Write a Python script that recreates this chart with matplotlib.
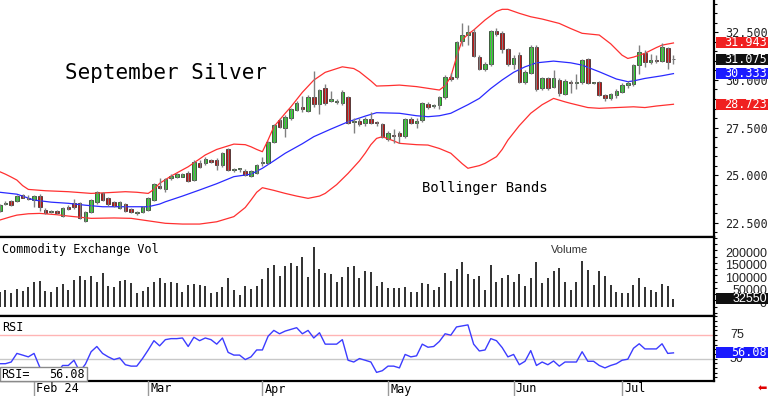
import numpy as np
import matplotlib.pyplot as plt
from matplotlib.patches import Rectangle
from matplotlib.ticker import MultipleLocator

# daily bars, Jan 24 .. Jul 15 (September silver)
opens = [23.13, 23.50, 23.64, 23.64, 23.95, 23.80, 23.69, 23.90, 23.17, 23.08,
         23.13, 22.85, 23.34, 23.53, 23.52, 22.60, 23.08, 23.57, 24.04, 23.80,
         23.57, 23.26, 23.48, 23.20, 23.00, 23.08, 23.17, 23.69, 24.43, 24.25,
         24.83, 24.92, 24.92, 25.13, 24.74, 25.65, 25.62, 25.78, 25.79, 25.53,
         26.37, 25.25, 25.30, 25.23, 24.98, 25.10, 25.62, 25.65, 26.75, 27.89,
         27.46, 27.98, 28.42, 28.59, 28.38, 29.12, 28.73, 29.59, 28.90, 28.82,
         28.77, 29.09, 27.80, 27.84, 27.75, 27.95, 27.74, 27.68, 26.88, 27.12,
         27.20, 27.05, 27.95, 27.72, 27.90, 28.73, 28.63, 28.68, 29.09, 30.17,
         30.17, 32.06, 32.36, 32.53, 31.22, 30.57, 30.84, 32.58, 32.48, 31.62,
         30.84, 31.31, 29.87, 30.35, 31.74, 29.56, 30.08, 29.65, 30.00, 29.26,
         29.91, 29.85, 29.87, 31.08, 29.83, 29.87, 29.20, 29.03, 29.20, 29.38,
         29.73, 29.78, 30.78, 31.43, 30.96, 31.02, 31.01, 31.66, 31.10]
highs = [23.50, 23.62, 23.70, 23.98, 24.00, 23.98, 23.97, 24.00, 23.25, 23.18,
         23.18, 23.30, 23.45, 23.76, 23.60, 23.10, 23.75, 24.15, 24.10, 23.85,
         23.65, 23.65, 23.55, 23.25, 23.10, 23.40, 23.85, 24.58, 24.85, 24.85,
         25.05, 25.10, 25.12, 25.20, 25.78, 25.80, 25.95, 25.85, 25.88, 26.20,
         26.45, 25.40, 25.40, 25.30, 25.25, 25.60, 25.95, 26.80, 27.70, 28.00,
         28.15, 28.55, 28.90, 29.15, 29.20, 30.48, 29.55, 29.80, 29.40, 29.00,
         29.45, 29.15, 28.00, 28.00, 28.05, 28.30, 27.85, 27.75, 27.30, 27.40,
         27.30, 28.00, 28.05, 28.00, 28.85, 28.85, 28.75, 29.15, 30.25, 30.35,
         32.05, 32.97, 32.90, 32.70, 31.30, 30.95, 32.65, 32.72, 32.55, 31.70,
         31.30, 31.45, 30.50, 31.85, 31.85, 30.15, 30.15, 30.50, 30.10, 30.05,
         30.00, 30.30, 31.10, 31.15, 29.90, 29.95, 29.28, 29.30, 29.50, 29.85,
         29.95, 30.85, 31.85, 31.55, 31.35, 31.30, 31.95, 31.75, 31.30]
lows = [23.05, 23.45, 23.40, 23.60, 23.78, 23.70, 23.34, 23.13, 22.95, 23.02,
        22.95, 22.80, 23.15, 23.20, 22.70, 22.55, 23.02, 23.50, 23.65, 23.40,
        23.30, 23.20, 23.05, 23.00, 22.90, 23.00, 23.10, 23.65, 24.25, 24.10,
        24.75, 24.85, 24.88, 24.65, 24.70, 25.40, 25.55, 25.62, 25.25, 25.45,
        25.20, 25.15, 25.18, 24.95, 24.90, 25.05, 25.50, 25.60, 26.70, 27.45,
        26.98, 27.90, 28.35, 28.30, 28.30, 28.60, 28.20, 28.70, 28.85, 28.75,
        28.70, 27.70, 27.23, 27.60, 27.60, 27.70, 27.60, 26.95, 26.80, 26.70,
        26.70, 26.95, 27.70, 27.50, 27.80, 28.50, 28.55, 28.50, 29.00, 29.95,
        30.05, 31.80, 31.85, 31.20, 30.50, 30.45, 30.75, 32.30, 31.40, 30.75,
        30.60, 29.85, 29.80, 30.30, 29.40, 29.45, 29.45, 29.60, 29.15, 29.20,
        29.30, 29.50, 29.80, 29.80, 29.78, 29.15, 28.90, 28.95, 29.05, 29.30,
        29.60, 29.70, 30.30, 30.70, 30.85, 30.90, 30.95, 30.55, 30.85]
closes = [23.43, 23.55, 23.43, 23.90, 23.81, 23.74, 23.92, 23.34, 22.99, 23.13,
          22.99, 23.26, 23.20, 23.34, 22.73, 23.05, 23.69, 24.10, 23.69, 23.48,
          23.39, 23.59, 23.13, 23.06, 23.06, 23.34, 23.78, 24.52, 24.31, 24.78,
          24.97, 25.04, 25.06, 24.71, 25.70, 25.44, 25.85, 25.70, 25.53, 26.15,
          25.27, 25.29, 25.32, 25.00, 25.21, 25.53, 25.66, 26.72, 27.63, 27.54,
          28.07, 28.46, 28.80, 28.46, 29.09, 28.72, 29.47, 28.77, 29.00, 28.85,
          29.35, 27.75, 27.85, 27.68, 27.95, 27.75, 27.72, 26.98, 27.23, 27.08,
          27.05, 27.95, 27.75, 27.86, 28.80, 28.59, 28.67, 29.09, 30.17, 30.05,
          31.97, 32.36, 32.50, 31.25, 30.57, 30.82, 32.58, 32.41, 31.62, 30.84,
          31.13, 29.90, 30.43, 31.71, 29.50, 30.08, 29.56, 30.08, 29.30, 29.96,
          29.82, 29.91, 31.05, 29.85, 29.84, 29.20, 29.03, 29.24, 29.42, 29.73,
          29.82, 30.78, 31.45, 30.96, 31.05, 31.00, 31.71, 30.96, 31.075]
volume = [60000, 67000, 53000, 70000, 63000, 77000, 98000, 103000, 64000, 57000,
          77000, 90000, 67000, 107000, 124000, 107000, 123000, 98000, 134000, 83000,
          79000, 104000, 107000, 94000, 56000, 63000, 79000, 98000, 114000, 94000,
          99000, 96000, 59000, 87000, 92000, 87000, 84000, 56000, 60000, 77000,
          116000, 67000, 47000, 84000, 70000, 83000, 110000, 154000, 167000, 123000,
          164000, 174000, 163000, 198000, 120000, 240000, 152000, 136000, 130000, 99000,
          120000, 160000, 163000, 114000, 143000, 139000, 83000, 100000, 74000, 74000,
          76000, 77000, 57000, 60000, 94000, 90000, 67000, 80000, 134000, 103000,
          151000, 180000, 130000, 110000, 124000, 67000, 167000, 100000, 114000, 127000,
          100000, 130000, 83000, 114000, 178000, 96000, 114000, 144000, 156000, 100000,
          67000, 100000, 183000, 147000, 87000, 143000, 123000, 87000, 60000, 53000,
          56000, 87000, 116000, 80000, 67000, 60000, 90000, 83000, 32550]
rsi = [44.5, 44.5, 46.3, 55.5, 53.7, 51.8, 55.5, 40.8, 34.0, 36.0,
       34.0, 42.6, 42.6, 48.2, 36.0, 44.0, 57.3, 62.9, 55.5, 51.8,
       48.9, 50.7, 43.4, 41.9, 41.9, 50.0, 59.2, 69.1, 63.6, 70.2,
       71.3, 71.3, 72.0, 62.9, 72.8, 69.1, 72.0, 70.2, 65.4, 72.0,
       56.6, 53.7, 53.7, 48.9, 51.8, 59.2, 59.2, 73.9, 80.1, 76.5,
       79.4, 81.2, 83.0, 76.5, 80.1, 72.0, 77.6, 65.4, 65.4, 65.4,
       70.2, 48.2, 46.3, 50.0, 48.2, 46.3, 35.2, 37.0, 41.9, 41.9,
       40.0, 54.4, 51.8, 52.9, 65.4, 62.1, 62.9, 68.3, 76.5, 75.0,
       83.8, 84.9, 86.0, 65.4, 58.1, 59.2, 71.3, 69.1, 61.7, 51.8,
       54.4, 43.4, 47.1, 58.5, 42.6, 46.3, 43.4, 47.4, 41.9, 46.3,
       46.3, 46.3, 57.3, 47.1, 47.1, 42.6, 40.0, 42.6, 44.5, 48.2,
       49.3, 61.0, 65.8, 60.3, 60.3, 60.3, 65.8, 55.5, 56.08]

# bollinger bands, read at sample bars
upper_idx = [0, 1, 2, 3, 4, 5, 8, 12, 16, 19, 22, 24, 26, 27, 28, 30, 33, 35, 36, 38,
             41, 43, 44, 45, 46, 47, 48, 50, 51, 53, 55, 57, 60, 62, 63, 65, 66, 68,
             70, 73, 75, 77, 78, 79, 80, 81, 82, 83, 85, 87, 88, 89, 91, 93, 95, 98,
             100, 102, 105, 107, 109, 110, 111, 113, 115, 116, 118]
upper = [25.18, 25.05, 24.90, 24.74, 24.45, 24.25, 24.18, 24.13, 24.04, 24.08, 24.13,
         24.10, 24.04, 24.25, 24.57, 24.95, 25.44, 25.85, 26.06, 26.35, 26.63, 26.60,
         26.49, 26.35, 26.23, 26.85, 27.54, 28.25, 28.59, 29.35, 29.99, 30.40, 30.69,
         30.60, 30.43, 29.95, 29.68, 29.70, 29.73, 29.65, 29.56, 29.47, 29.70, 30.17,
         31.20, 32.10, 32.40, 32.62, 33.15, 33.60, 33.71, 33.71, 33.50, 33.32, 33.20,
         32.97, 32.70, 32.45, 32.36, 31.90, 31.30, 31.13, 31.20, 31.40, 31.70, 31.83,
         31.943]
mid_idx = [0, 3, 6, 9, 12, 15, 18, 22, 26, 28, 29, 32, 35, 38, 41, 44, 46, 48, 50, 53,
           55, 58, 61, 64, 66, 70, 73, 75, 77, 79, 82, 84, 86, 88, 90, 92, 94, 97, 100,
           102, 105, 108, 110, 111, 113, 116, 118]
mid = [24.10, 24.00, 23.69, 23.58, 23.52, 23.42, 23.34, 23.34, 23.34, 23.48, 23.60,
       23.90, 24.22, 24.55, 24.92, 25.05, 25.36, 25.75, 26.15, 26.65, 27.02, 27.42,
       27.80, 28.10, 28.28, 28.25, 28.12, 28.07, 28.12, 28.25, 28.70, 29.03, 29.55,
       30.00, 30.40, 30.69, 30.90, 30.99, 30.90, 30.78, 30.43, 30.05, 29.91, 29.95,
       30.08, 30.22, 30.333]
lower_idx = [0, 2, 3, 5, 7, 10, 12, 16, 20, 23, 26, 29, 32, 35, 38, 41, 43, 44, 45,
             46, 48, 50, 52, 54, 56, 57, 59, 61, 63, 64, 65, 66, 67, 69, 70, 73, 75,
             77, 79, 81, 82, 84, 85, 87, 88, 89, 91, 93, 95, 97, 99, 100, 103, 105,
             108, 111, 113, 115, 118]
lower = [22.64, 22.82, 22.90, 22.97, 22.99, 22.92, 22.85, 22.73, 22.75, 22.73, 22.60,
         22.47, 22.43, 22.43, 22.55, 22.82, 23.30, 23.69, 24.10, 24.34, 24.20, 24.04,
         23.90, 23.78, 23.90, 24.04, 24.50, 25.09, 25.75, 26.15, 26.60, 26.93, 27.02,
         26.80, 26.67, 26.60, 26.58, 26.40, 26.15, 25.60, 25.36, 25.50, 25.62, 25.97,
         26.35, 26.84, 27.60, 28.25, 28.70, 29.03, 28.85, 28.77, 28.55, 28.51, 28.55,
         28.59, 28.55, 28.63, 28.723]

month_idx = [6, 26, 46, 68, 90, 109]
month_labels = ['Feb 24', 'Mar', 'Apr', 'May', 'Jun', 'Jul']
price_ticks = [22.5, 25.0, 27.5, 30.0, 32.5]
vol_ticks = [0, 50000, 100000, 150000, 200000]

W, H = 768, 396
MONO = 'DejaVu Sans Mono'
SANS = 'Liberation Sans'


def rect(x0, y0, x1, y1):
    return [x0 / W, 1 - y1 / H, (x1 - x0) / W, (y1 - y0) / H]


fig = plt.figure(figsize=(W / 100, H / 100), dpi=100)
ax_p = fig.add_axes(rect(0, 0, 714, 237))
ax_v = fig.add_axes(rect(0, 237, 714, 316))
ax_r = fig.add_axes(rect(0, 316, 714, 381))

x = np.arange(len(closes))
o = np.array(opens)
c = np.array(closes)
up = c >= o
lo = np.minimum(o, c)
hgt = np.maximum(np.abs(c - o), 0.05)

for ax in (ax_p, ax_v, ax_r):
    ax.set_xlim(0.04, 125.1)
    ax.set_xticks([])
    ax.spines['left'].set_visible(False)
    for s in ('top', 'bottom', 'right'):
        ax.spines[s].set_linewidth(1.6)
ax_p.spines['top'].set_visible(False)

# price panel
ax_p.plot(upper_idx, upper, color='#ff3030', lw=0.9)
ax_p.plot(lower_idx, lower, color='#ff3030', lw=0.9)
ax_p.plot(mid_idx, mid, color='#2a2aff', lw=0.9)
ax_p.vlines(x, lows, highs, color='#808080', lw=1.0)
ax_p.bar(x[up], hgt[up], bottom=lo[up], width=0.62, color='#1ee61e',
         edgecolor='#202020', lw=0.5)
ax_p.bar(x[~up], hgt[~up], bottom=lo[~up], width=0.62, color='#d00000',
         edgecolor='#202020', lw=0.5)
ax_p.set_ylim(21.75, 34.20)
ax_p.yaxis.tick_right()
ax_p.set_yticks(price_ticks)
ax_p.set_yticklabels(['%.3f' % v for v in price_ticks])
ax_p.yaxis.set_minor_locator(MultipleLocator(0.5))
ax_p.tick_params(axis='y', length=3, pad=5, labelsize=8.5, labelcolor='#222222',
                 labelfontfamily=MONO)
ax_p.tick_params(axis='y', which='minor', length=2, width=0.8)
fig.text(65 / W, 1 - 73 / H, 'September Silver', fontsize=15, family=MONO,
         va='center', ha='left')
ax_p.text(0.591, 0.205, 'Bollinger Bands', transform=ax_p.transAxes, fontsize=10,
          family=MONO, va='center', ha='left')

# volume panel
ax_v.vlines(x, 0, volume, color='#303030', lw=1.4)
ax_v.set_ylim(-37200, 278800)
ax_v.yaxis.tick_right()
ax_v.yaxis.set_major_locator(MultipleLocator(25000))
ax_v.tick_params(axis='y', length=2, width=0.8, labelright=False)

ax_v.text(0.003, 0.93, 'Commodity Exchange Vol', transform=ax_v.transAxes, fontsize=8.5,
          family=MONO, va='top', ha='left')
ax_v.text(0.772, 0.83, 'Volume', transform=ax_v.transAxes, fontsize=8,
          family=SANS, va='center', ha='left', color='#333333')

# rsi panel
ax_r.axhline(75, color='#ffb4b4', lw=1)
ax_r.axhline(50, color='#c8c8c8', lw=1)
ax_r.plot(x, rsi, color='#3c3cff', lw=1)
ax_r.set_ylim(26, 95.5)
ax_r.yaxis.tick_right()
ax_r.yaxis.set_major_locator(MultipleLocator(5))
ax_r.tick_params(axis='y', length=2, width=0.8, labelright=False)
ax_r.text(0.003, 0.93, 'RSI', transform=ax_r.transAxes, fontsize=8.5, family=MONO,
          va='top', ha='left')


def fig_y(ax, val):
    return fig.transFigure.inverted().transform(ax.transData.transform((0, val)))[1]


for v in vol_ticks:
    fig.text(767 / W, fig_y(ax_v, v) + 3 / H, str(v), ha='right', va='center',
             fontsize=9, family=SANS, color='#222222')
fig.text(730 / W, fig_y(ax_r, 75), '75', ha='left', va='center', fontsize=9,
         family=SANS, color='#222222')
fig.text(730 / W, fig_y(ax_r, 50), '50', ha='left', va='center', fontsize=9,
         family=SANS, color='#222222')


def tag(ax, val, text, fc, family=MONO, size=8.5):
    yf = fig_y(ax, val)
    fig.add_artist(Rectangle((716 / W, yf - 5.5 / H), 52 / W, 11 / H,
                             transform=fig.transFigure, facecolor=fc,
                             edgecolor='none', zorder=5))
    fig.text(767 / W, yf, text, color='white', ha='right', va='center',
             family=family, fontsize=size, zorder=6)


tag(ax_p, upper[-1], '%.3f' % upper[-1], '#f02020')
tag(ax_p, closes[-1], '%.3f' % closes[-1], '#101010')
tag(ax_p, mid[-1], '%.3f' % mid[-1], '#1a1aff')
tag(ax_p, lower[-1], '%.3f' % lower[-1], '#f02020')
tag(ax_v, volume[-1], str(volume[-1]), '#101010', family=SANS, size=9)
tag(ax_r, rsi[-1], '%.2f' % rsi[-1], '#1a1aff')

# rsi readout box
fig.add_artist(Rectangle((0, 1 - 381 / H), 87 / W, 14 / H, transform=fig.transFigure,
                         facecolor='white', edgecolor='#8a8a8a', lw=1, zorder=5))
fig.text(1 / W, 1 - 374 / H, 'RSI=', family=MONO, fontsize=8.5, va='center',
         ha='left', zorder=6)
fig.text(85 / W, 1 - 374 / H, '%.2f' % rsi[-1], family=MONO, fontsize=8.5,
         va='center', ha='right', zorder=6)

# month separators and labels
for i, lab in zip(month_idx, month_labels):
    xf = fig.transFigure.inverted().transform(ax_r.transData.transform((i, 0)))[0]
    fig.add_artist(plt.Line2D([xf, xf], [0, 1 - 381 / H], color='#9a9a9a', lw=1))
    fig.text(xf + 2 / W, 1 - 389 / H, lab, family=MONO, fontsize=8.5, va='center',
             ha='left')

fig.text(762 / W, 1 - 389 / H, '\u2b05', color='#e00000', fontsize=8, ha='center',
         va='center', family='DejaVu Sans')

fig.savefig('out.png', dpi=100)
